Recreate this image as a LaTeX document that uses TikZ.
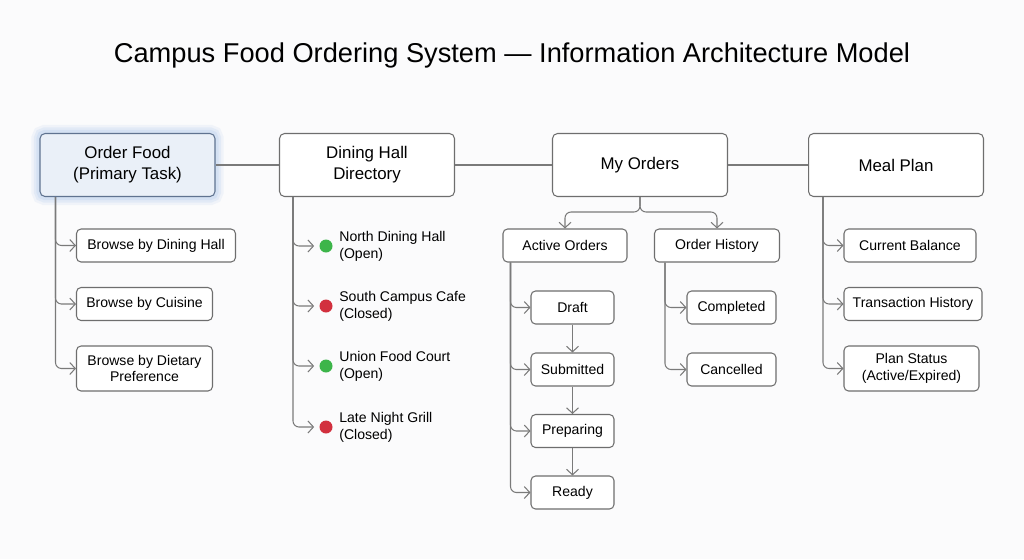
\documentclass[tikz,border=0pt]{standalone}
\usepackage{fontspec}
\setmainfont{Liberation Sans}
\usepackage{tikz}
\usetikzlibrary{arrows.meta, positioning, calc, backgrounds}

\definecolor{linegray}{HTML}{7A7A7A}
\definecolor{boxgray}{HTML}{6E6E6E}
\definecolor{primfill}{HTML}{EAF0F8}
\definecolor{primdraw}{HTML}{5F7390}
\definecolor{halo}{HTML}{C4D7F0}
\definecolor{dotgreen}{HTML}{3DB54A}
\definecolor{dotred}{HTML}{D2303E}
\definecolor{pagebg}{HTML}{FBFBFC}

\begin{document}
\begin{tikzpicture}[
    x=0.02cm, y=-0.02cm,
    section/.style={draw=boxgray, fill=white, rounded corners=1mm, minimum width=3.5cm, minimum height=1.26cm, align=center, font=\fontsize{9.6}{12}\selectfont, line width=0.6pt},
    primary/.style={section, fill=primfill, draw=primdraw},
    item/.style={draw=boxgray, fill=white, rounded corners=0.9mm, minimum height=0.66cm, align=center, font=\fontsize{8}{9.6}\selectfont, line width=0.6pt, inner xsep=2pt},
    hall/.style={align=left, anchor=west, font=\fontsize{8}{9.6}\selectfont, inner sep=0pt},
    dot/.style={circle, inner sep=0pt, minimum size=0.26cm},
    link/.style={draw=linegray, line width=0.6pt},
    branch/.style={draw=linegray, line width=0.6pt, rounded corners=1.2mm, -{Straight Barb[length=1.1mm, width=2.4mm]}},
    arrow/.style={draw=linegray, line width=0.6pt, -{Straight Barb[length=1.1mm, width=2.4mm]}}
]
\useasboundingbox (0,0) rectangle (1024,559);

% Title
\node (title) at (512,55) {\fontsize{15.5}{18}\selectfont Campus Food Ordering System --- Information Architecture Model};

% Sections
\node[primary] (food) at (127.5,165) {Order Food\\(Primary Task)};
\node[section] (dining) at (367,165) {Dining Hall\\Directory};
\node[section] (orders) at (640,165) {My Orders};
\node[section] (meal) at (896,165) {Meal Plan};

\begin{scope}[on background layer]
\fill[pagebg] (0,0) rectangle (1024,559);
\foreach \w/\o in {16/0.2, 11/0.3, 6/0.45} {
    \draw[halo, line width=\w*0.02cm, opacity=\o, rounded corners=1mm] (food.south west) rectangle (food.north east);
}
\end{scope}

\draw[link] (food) -- (dining);
\draw[link] (dining) -- (orders);
\draw[link] (orders) -- (meal);

% Order Food
\node[item, minimum width=3.18cm] (byhall) at (156,245.5) {Browse by Dining Hall};
\node[item, minimum width=2.72cm] (bycuisine) at (144.5,304) {Browse by Cuisine};
\node[item, minimum width=2.72cm, minimum height=0.9cm] (bydiet) at (144.5,368.5) {Browse by Dietary\\Preference};
\foreach \c in {byhall, bycuisine, bydiet} {
    \draw[branch] ($(food.south west)+(16,0)$) |- (\c.west);
}

% Dining Hall Directory
\foreach \n/\y/\col/\txt in {north/246/dotgreen/{North Dining Hall\\(Open)},
                            south/306/dotred/{South Campus Cafe\\(Closed)},
                            union/366/dotgreen/{Union Food Court\\(Open)},
                            late/427/dotred/{Late Night Grill\\(Closed)}} {
    \node[dot, fill=\col] (\n) at (326,\y) {};
    \node[hall] (\n txt) at (339,\y) {\txt};
    \draw[branch, shorten >=5*0.02cm] ($(dining.south west)+(14,0)$) |- (\n.west);
}

% My Orders
\node[item, minimum width=2.48cm] (active) at (565,245.5) {Active Orders};
\node[item, minimum width=2.5cm] (history) at (717,245.5) {Order History};
\coordinate (fork) at (640,212);
\draw[branch] (orders.south) -- (fork) -| (active.north);
\draw[branch] (orders.south) -- (fork) -| (history.north);

\node[item, minimum width=1.66cm] (draft) at (572.5,307.5) {Draft};
\node[item, minimum width=1.66cm] (submitted) at (572.5,369.5) {Submitted};
\node[item, minimum width=1.66cm] (preparing) at (572.5,431) {Preparing};
\node[item, minimum width=1.66cm] (ready) at (572.5,492.5) {Ready};
\foreach \c in {draft, submitted, preparing, ready} {
    \draw[branch] ($(active.south west)+(8,0)$) |- (\c.west);
}
\draw[arrow] (draft) -- (submitted);
\draw[arrow] (submitted) -- (preparing);
\draw[arrow] (preparing) -- (ready);

\node[item, minimum width=1.78cm] (completed) at (731.5,307.5) {Completed};
\node[item, minimum width=1.78cm] (cancelled) at (731.5,369.5) {Cancelled};
\foreach \c in {completed, cancelled} {
    \draw[branch] ($(history.south west)+(11,0)$) |- (\c.west);
}

% Meal Plan
\node[item, minimum width=2.64cm] (balance) at (910,245.5) {Current Balance};
\node[item, minimum width=2.76cm] (transactions) at (913,304) {Transaction History};
\node[item, minimum width=2.7cm, minimum height=0.9cm] (status) at (911.5,368.5) {Plan Status\\(Active/Expired)};
\foreach \c in {balance, transactions, status} {
    \draw[branch] ($(meal.south west)+(15,0)$) |- (\c.west);
}

\end{tikzpicture}
\end{document}
